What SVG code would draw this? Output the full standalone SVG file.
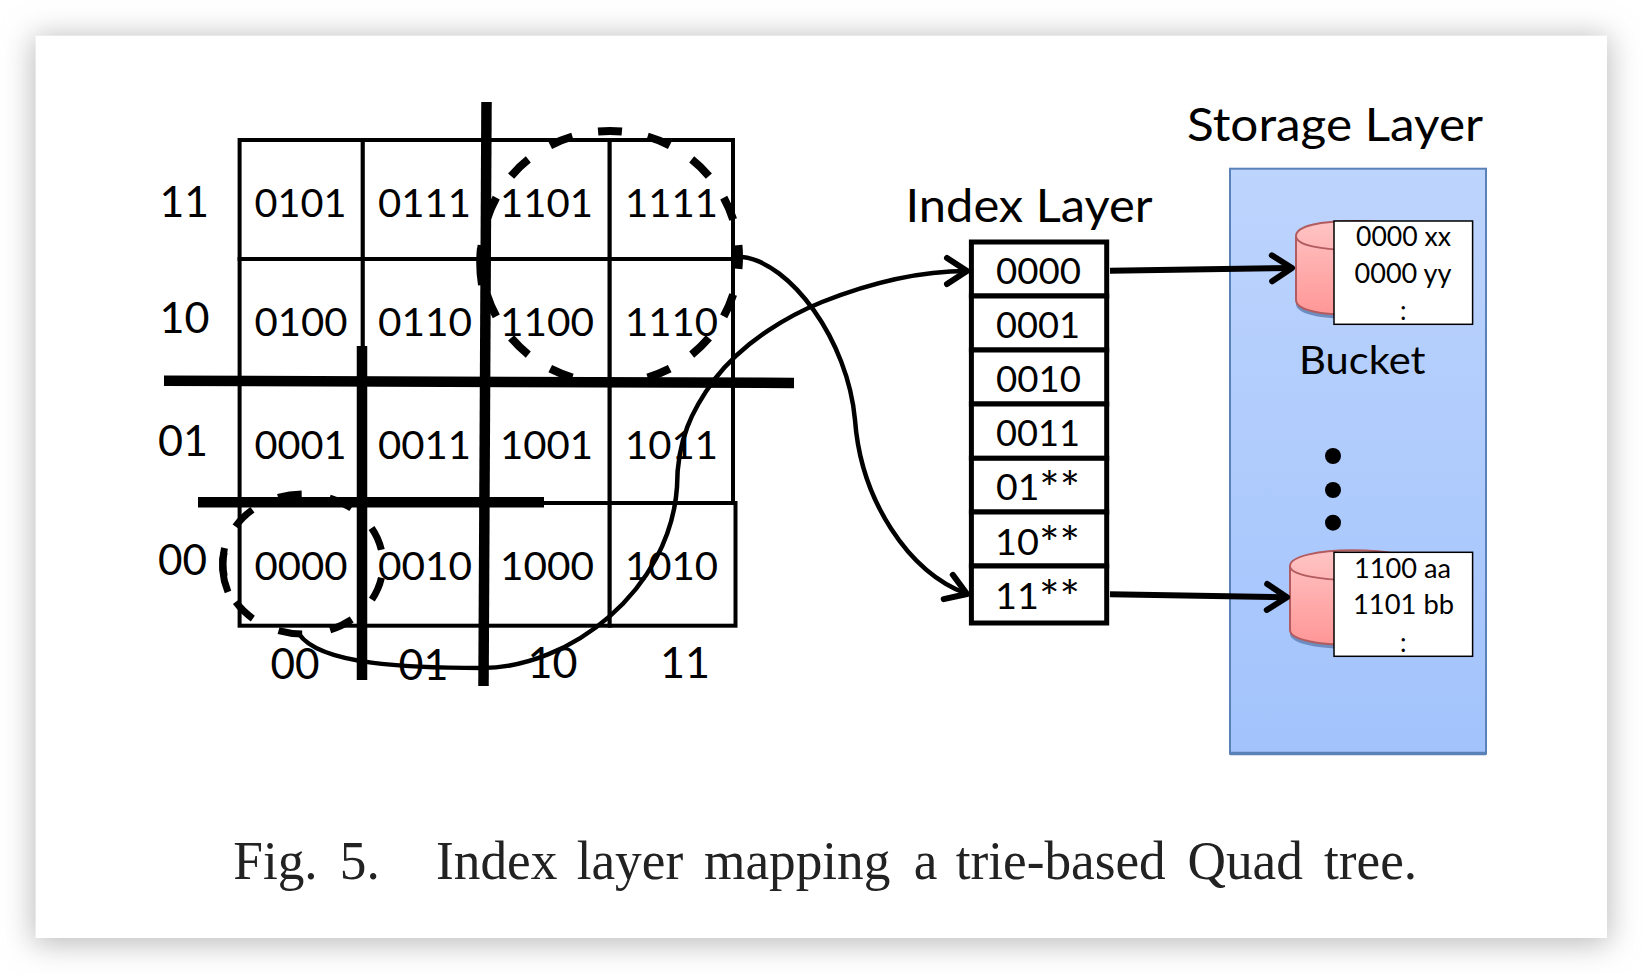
<svg xmlns="http://www.w3.org/2000/svg" width="1644" height="974" viewBox="0 0 1644 974">
<style>
.t{font-family:"Lato","Carlito","Liberation Sans",sans-serif;fill:#000;text-anchor:start}
.c{font-size:39px}
.a{font-size:43px}
.i{font-size:36px}
.h{font-size:46px}
.s{font-size:26px}
.ast{font-size:46px}
.cell{fill:#fff;stroke:#000;stroke-width:4}
.idx{fill:#fff;stroke:#000;stroke-width:5}
.cut{stroke:#000;stroke-width:10.5;fill:none}
.wire{stroke:#000;fill:none;stroke-width:4.5}
.thick{stroke-width:6}
.bk{fill:#fff;stroke:#000;stroke-width:1.5}
.cyl{fill:url(#p);stroke:#b25c60;stroke-width:2}
.cap{font-family:"Liberation Serif","Times New Roman",serif;font-size:55.5px;fill:#222}
</style>
<defs>
<filter id="blur" x="-10%" y="-10%" width="120%" height="120%"><feGaussianBlur stdDeviation="15"/></filter>
<linearGradient id="b" x1="0" y1="0" x2="0" y2="1"><stop offset="0" stop-color="#bdd4fd"/><stop offset="1" stop-color="#a2c3fc"/></linearGradient>
<linearGradient id="p" x1="0" y1="0" x2="0" y2="1"><stop offset="0" stop-color="#ffc4c4"/><stop offset="1" stop-color="#ff9696"/></linearGradient>
<marker id="arrow" viewBox="-26 -18 32 36" markerWidth="32" markerHeight="36" refX="0" refY="0" markerUnits="userSpaceOnUse" orient="auto"><path d="M-20,-13 L0,0 L-20,13" fill="none" stroke="#000" stroke-width="6" stroke-linecap="round" stroke-linejoin="round"/></marker>
</defs>
<rect width="1644" height="974" fill="#fff"/>
<rect x="33" y="36" width="1576" height="908" fill="#bbb" filter="url(#blur)"/>
<rect x="35.6" y="35.7" width="1571.4" height="902.3" fill="#fff"/>

<g id="grid">
<g id="cell-0101"><rect class="cell" x="239.6" y="140" width="123.2" height="119"/><text class="t c" x="254.5" y="216.7" textLength="92" lengthAdjust="spacingAndGlyphs">0101</text></g>
<g id="cell-0111"><rect class="cell" x="362.8" y="140" width="123.2" height="119"/><text class="t c" x="378" y="216.7" textLength="93" lengthAdjust="spacingAndGlyphs">0111</text></g>
<g id="cell-1101"><rect class="cell" x="486" y="140" width="123.7" height="119"/><text class="t c" x="500" y="216.7" textLength="93" lengthAdjust="spacingAndGlyphs">1101</text></g>
<g id="cell-1111"><rect class="cell" x="609.7" y="140" width="123.3" height="119"/><text class="t c" x="625" y="216.7" textLength="93" lengthAdjust="spacingAndGlyphs">1111</text></g>
<g id="cell-0100"><rect class="cell" x="239.6" y="259" width="123.2" height="122.7"/><text class="t c" x="254.5" y="336" textLength="93" lengthAdjust="spacingAndGlyphs">0100</text></g>
<g id="cell-0110"><rect class="cell" x="362.8" y="259" width="123.2" height="122.7"/><text class="t c" x="378" y="336" textLength="94" lengthAdjust="spacingAndGlyphs">0110</text></g>
<g id="cell-1100"><rect class="cell" x="486" y="259" width="123.7" height="122.7"/><text class="t c" x="500" y="336" textLength="94" lengthAdjust="spacingAndGlyphs">1100</text></g>
<g id="cell-1110"><rect class="cell" x="609.7" y="259" width="123.3" height="122.7"/><text class="t c" x="625" y="336" textLength="93" lengthAdjust="spacingAndGlyphs">1110</text></g>
<g id="cell-0001"><rect class="cell" x="239.6" y="381.7" width="123.2" height="121.3"/><text class="t c" x="254.5" y="459.3" textLength="92" lengthAdjust="spacingAndGlyphs">0001</text></g>
<g id="cell-0011"><rect class="cell" x="362.8" y="381.7" width="123.2" height="121.3"/><text class="t c" x="378" y="459.3" textLength="93" lengthAdjust="spacingAndGlyphs">0011</text></g>
<g id="cell-1001"><rect class="cell" x="486" y="381.7" width="123.7" height="121.3"/><text class="t c" x="500" y="459.3" textLength="93" lengthAdjust="spacingAndGlyphs">1001</text></g>
<g id="cell-1011"><rect class="cell" x="609.7" y="381.7" width="123.3" height="121.3"/><text class="t c" x="625" y="459.3" textLength="93" lengthAdjust="spacingAndGlyphs">1011</text></g>
<g id="cell-0000"><rect class="cell" x="239.6" y="503" width="123.2" height="122.7"/><text class="t c" x="254.5" y="579.7" textLength="93" lengthAdjust="spacingAndGlyphs">0000</text></g>
<g id="cell-0010"><rect class="cell" x="362.8" y="503" width="123.2" height="122.7"/><text class="t c" x="378" y="579.7" textLength="94" lengthAdjust="spacingAndGlyphs">0010</text></g>
<g id="cell-1000"><rect class="cell" x="486" y="503" width="123.7" height="122.7"/><text class="t c" x="500" y="579.7" textLength="94" lengthAdjust="spacingAndGlyphs">1000</text></g>
<g id="cell-1010"><rect class="cell" x="609.7" y="503" width="125.8" height="122.7"/><text class="t c" x="625" y="579.7" textLength="93" lengthAdjust="spacingAndGlyphs">1010</text></g>
</g>

<g id="axis-labels">
<text class="t a" x="159.5" y="217" textLength="49.5" lengthAdjust="spacingAndGlyphs">11</text>
<text class="t a" x="159.5" y="333" textLength="50" lengthAdjust="spacingAndGlyphs">10</text>
<text class="t a" x="158" y="456" textLength="50" lengthAdjust="spacingAndGlyphs">01</text>
<text class="t a" x="158" y="575" textLength="49" lengthAdjust="spacingAndGlyphs">00</text>
<text class="t a" x="270.6" y="678.7" textLength="49" lengthAdjust="spacingAndGlyphs">00</text>
<text class="t a" x="398.5" y="680" textLength="50" lengthAdjust="spacingAndGlyphs">01</text>
<text class="t a" x="527.5" y="678" textLength="50" lengthAdjust="spacingAndGlyphs">10</text>
<text class="t a" x="660" y="678" textLength="50" lengthAdjust="spacingAndGlyphs">11</text>
</g>

<g id="partitions">
<path class="cut" d="M486.5,102 L483.5,686"/>
<path class="cut" d="M362,346 L362,680"/>
<path class="cut" d="M164,380.7 L794,382.9"/>
<path class="cut" d="M198,502.3 L544,502.3"/>
</g>

<g id="regions" fill="none" stroke="#000" stroke-width="8">
<ellipse id="region-top" cx="610" cy="257" rx="129" ry="126" pathLength="804" stroke-dasharray="24 26.25" stroke-dashoffset="12"/>
<path d="M481,248 Q479,266 482,285"/>
<ellipse id="region-bottom" cx="303" cy="564" rx="80" ry="70" pathLength="472.5" stroke-dasharray="24 28.5" stroke-dashoffset="-14" stroke-width="7"/>
<path d="M224.5,548 Q219,570 228,592" stroke-width="7"/>
</g>

<g id="connectors">
<path class="wire" d="M742,257 C790,262 848,340 855,420 C861,500 908,572 967,594" marker-end="url(#arrow)"/>
<path class="wire" d="M299,634 C320,665 410,668 482,668 C570,668 670,590 677,487 C677,440 692,410 714,380 C745,340 790,315 822,302 C870,283 920,271 967,271" marker-end="url(#arrow)"/>
</g>

<g id="index-layer">
<text class="t h" x="905.5" y="221.7" textLength="247" lengthAdjust="spacingAndGlyphs">Index Layer</text>
<g id="idx-0000"><rect class="idx" x="971.4" y="242" width="135.3" height="54"/><text class="t i" x="996" y="284" textLength="85" lengthAdjust="spacingAndGlyphs">0000</text></g>
<g id="idx-0001"><rect class="idx" x="971.4" y="296" width="135.3" height="54"/><text class="t i" x="996" y="338" textLength="84" lengthAdjust="spacingAndGlyphs">0001</text></g>
<g id="idx-0010"><rect class="idx" x="971.4" y="350" width="135.3" height="54"/><text class="t i" x="996" y="392" textLength="85" lengthAdjust="spacingAndGlyphs">0010</text></g>
<g id="idx-0011"><rect class="idx" x="971.4" y="404" width="135.3" height="54.3"/><text class="t i" x="996" y="446" textLength="84" lengthAdjust="spacingAndGlyphs">0011</text></g>
<g id="idx-01"><rect class="idx" x="971.4" y="458.3" width="135.3" height="53.7"/><text class="t i" x="996" y="500" textLength="84" lengthAdjust="spacingAndGlyphs">01<tspan class="ast" dy="5">**</tspan></text></g>
<g id="idx-10"><rect class="idx" x="971.4" y="512" width="135.3" height="54"/><text class="t i" x="995" y="554.7" textLength="85" lengthAdjust="spacingAndGlyphs">10<tspan class="ast" dy="5">**</tspan></text></g>
<g id="idx-11"><rect class="idx" x="971.4" y="566" width="135.3" height="57"/><text class="t i" x="995" y="608.7" textLength="85" lengthAdjust="spacingAndGlyphs">11<tspan class="ast" dy="5">**</tspan></text></g>
</g>

<g id="storage-layer">
<text class="t h" x="1187" y="140.7" textLength="296" lengthAdjust="spacingAndGlyphs">Storage Layer</text>
<rect x="1230" y="168.7" width="256" height="585" fill="url(#b)" stroke="#5b82b8" stroke-width="2"/>
<path d="M1230,753.5 H1486" stroke="#5b82b8" stroke-width="3.5" fill="none"/>
<text class="t" x="1299" y="374" font-size="38" textLength="126.5" lengthAdjust="spacingAndGlyphs">Bucket</text>
<circle cx="1333" cy="456" r="8"/>
<circle cx="1333" cy="490" r="8"/>
<circle cx="1333" cy="522.7" r="8"/>
</g>

<g id="bucket-top">
<path fill="#6d8cc0" transform="translate(0,4)" d="M1296,236 C1296,226 1320,221 1355,221 C1390,221 1414,226 1414,236 V300 C1414,310 1390,315 1355,315 C1320,315 1296,310 1296,300 Z"/>
<path class="cyl" d="M1296,236 C1296,226 1320,221 1355,221 C1390,221 1414,226 1414,236 V300 C1414,310 1390,315 1355,315 C1320,315 1296,310 1296,300 Z"/>
<path d="M1296,236 C1296,245 1320,250 1355,250" fill="none" stroke="#b25c60" stroke-width="2"/>
<rect class="bk" x="1334" y="221" width="138.6" height="103.3"/>
<text class="t s" x="1356" y="246" textLength="95" lengthAdjust="spacingAndGlyphs">0000 xx</text>
<text class="t s" x="1354.5" y="282.7" textLength="97" lengthAdjust="spacingAndGlyphs">0000 yy</text>
<text class="t s" x="1400" y="320">:</text>
</g>

<g id="bucket-bottom">
<path fill="#6d8cc0" transform="translate(0,4)" d="M1290,566 C1290,556 1320,550.3 1352,550.3 C1390,550.3 1414,556 1414,566 V630 C1414,640 1390,645 1352,645 C1320,645 1290,640 1290,630 Z"/>
<path class="cyl" d="M1290,566 C1290,556 1320,550.3 1352,550.3 C1390,550.3 1414,556 1414,566 V630 C1414,640 1390,645 1352,645 C1320,645 1290,640 1290,630 Z"/>
<path d="M1290,566 C1290,575 1320,580 1352,580" fill="none" stroke="#b25c60" stroke-width="2"/>
<rect class="bk" x="1334" y="552.3" width="138.6" height="104"/>
<text class="t s" x="1354" y="577.7" textLength="97" lengthAdjust="spacingAndGlyphs">1100 aa</text>
<text class="t s" x="1353" y="614" textLength="101" lengthAdjust="spacingAndGlyphs">1101 bb</text>
<text class="t s" x="1400" y="652">:</text>
</g>

<g id="connectors-storage">
<path class="wire thick" d="M1110,270.7 L1292,268" marker-end="url(#arrow)"/>
<path class="wire thick" d="M1110,594.3 L1287,597.3" marker-end="url(#arrow)"/>
</g>

<g id="caption">
<text class="cap" transform="scale(0.96,1)" y="878.7"><tspan x="243">Fig.</tspan> <tspan x="353.9">5.</tspan> <tspan x="454.2">Index</tspan> <tspan x="600.7">layer</tspan> <tspan x="733.3">mapping</tspan> <tspan x="951.8">a</tspan> <tspan x="995.5">trie-based</tspan> <tspan x="1236.9">Quad</tspan> <tspan x="1379.2">tree.</tspan></text>
</g>
</svg>
